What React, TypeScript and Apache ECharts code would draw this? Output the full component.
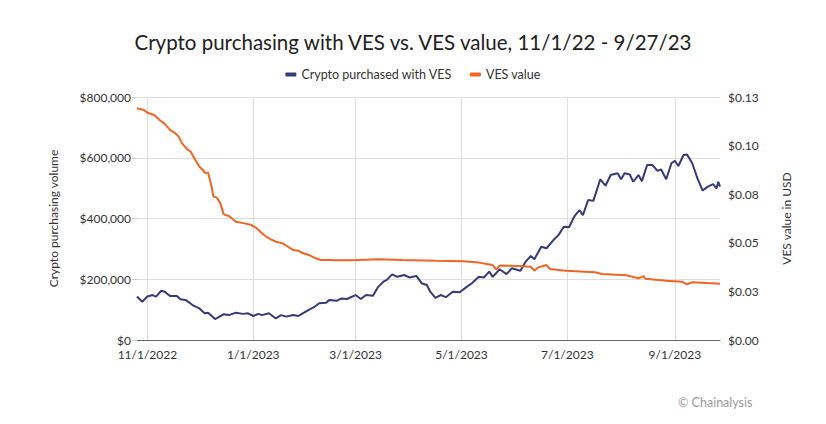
import React, { useEffect, useRef } from "react";
import * as echarts from "echarts";

const titleText = "Crypto purchasing with VES vs. VES value, 11/1/22 - 9/27/23";
const seriesNames = ["Crypto purchased with VES", "VES value"];
const leftAxisName = "Crypto purchasing volume";
const rightAxisName = "VES value in USD";
const xTickDates = ["2022-11-01", "2023-01-01", "2023-03-01", "2023-05-01", "2023-07-01", "2023-09-01"];
const xRange = ["2022-10-26", "2023-09-27"];

const cryptoDates = [
  "2022-10-26", "2022-10-29", "2022-11-01", "2022-11-04", "2022-11-06", "2022-11-09", "2022-11-11", "2022-11-14",
  "2022-11-18", "2022-11-20", "2022-11-23", "2022-11-27", "2022-12-01", "2022-12-04", "2022-12-06", "2022-12-10",
  "2022-12-12", "2022-12-15", "2022-12-18", "2022-12-22", "2022-12-26", "2022-12-29", "2023-01-01", "2023-01-04",
  "2023-01-06", "2023-01-10", "2023-01-14", "2023-01-17", "2023-01-20", "2023-01-24", "2023-01-27", "2023-01-29",
  "2023-02-02", "2023-02-05", "2023-02-08", "2023-02-12", "2023-02-14", "2023-02-18", "2023-02-21", "2023-02-24",
  "2023-03-01", "2023-03-04", "2023-03-07", "2023-03-11", "2023-03-14", "2023-03-17", "2023-03-19", "2023-03-22",
  "2023-03-25", "2023-03-29", "2023-04-01", "2023-04-05", "2023-04-08", "2023-04-11", "2023-04-13", "2023-04-16",
  "2023-04-19", "2023-04-22", "2023-04-26", "2023-04-30", "2023-05-04", "2023-05-07", "2023-05-11", "2023-05-14",
  "2023-05-17", "2023-05-19", "2023-05-23", "2023-05-27", "2023-05-30", "2023-06-04", "2023-06-07", "2023-06-10",
  "2023-06-12", "2023-06-16", "2023-06-19", "2023-06-23", "2023-06-26", "2023-06-29", "2023-07-02", "2023-07-05",
  "2023-07-08", "2023-07-10", "2023-07-13", "2023-07-16", "2023-07-20", "2023-07-23", "2023-07-26", "2023-07-30",
  "2023-08-01", "2023-08-03", "2023-08-06", "2023-08-08", "2023-08-11", "2023-08-13", "2023-08-16", "2023-08-19",
  "2023-08-22", "2023-08-24", "2023-08-27", "2023-08-30", "2023-09-01", "2023-09-03", "2023-09-06", "2023-09-08",
  "2023-09-11", "2023-09-14", "2023-09-17", "2023-09-20", "2023-09-23", "2023-09-25", "2023-09-26", "2023-09-27",
];
const cryptoValues = [
  143000, 126000, 143000, 148000, 143000, 162000, 159000, 145000,
  145000, 134000, 132000, 115000, 104000, 88000, 90000, 69000,
  75000, 85000, 82000, 90000, 86000, 88000, 79000, 86000,
  82000, 88000, 71000, 82000, 77000, 82000, 79000, 86000,
  99000, 108000, 121000, 123000, 132000, 129000, 137000, 135000,
  148000, 135000, 148000, 146000, 175000, 192000, 198000, 216000,
  208000, 214000, 206000, 211000, 187000, 181000, 159000, 139000,
  148000, 141000, 159000, 157000, 175000, 187000, 208000, 206000,
  225000, 208000, 233000, 217000, 236000, 228000, 258000, 277000,
  266000, 307000, 302000, 329000, 346000, 373000, 371000, 406000,
  428000, 411000, 461000, 458000, 529000, 508000, 543000, 549000,
  529000, 549000, 545000, 521000, 543000, 523000, 576000, 576000,
  557000, 562000, 529000, 582000, 590000, 573000, 609000, 611000,
  582000, 532000, 492000, 505000, 513000, 499000, 521000, 505000,
];

const vesDates = [
  "2022-10-26", "2022-10-30", "2022-11-01", "2022-11-05", "2022-11-08", "2022-11-11", "2022-11-14", "2022-11-17",
  "2022-11-19", "2022-11-21", "2022-11-24", "2022-11-26", "2022-11-28", "2022-12-01", "2022-12-03", "2022-12-04",
  "2022-12-06", "2022-12-08", "2022-12-09", "2022-12-11", "2022-12-13", "2022-12-15", "2022-12-18", "2022-12-22",
  "2022-12-27", "2022-12-31", "2023-01-03", "2023-01-06", "2023-01-08", "2023-01-11", "2023-01-14", "2023-01-18",
  "2023-01-21", "2023-01-24", "2023-01-27", "2023-01-29", "2023-02-02", "2023-02-06", "2023-02-09", "2023-02-14",
  "2023-02-18", "2023-02-27", "2023-03-14", "2023-03-28", "2023-04-16", "2023-05-02", "2023-05-11", "2023-05-19",
  "2023-05-21", "2023-05-23", "2023-06-03", "2023-06-10", "2023-06-12", "2023-06-14", "2023-06-19", "2023-06-21",
  "2023-06-30", "2023-07-17", "2023-07-21", "2023-08-04", "2023-08-11", "2023-08-14", "2023-08-15", "2023-08-27",
  "2023-09-05", "2023-09-08", "2023-09-11", "2023-09-19", "2023-09-27",
];
const vesValues = [
  0.124, 0.123, 0.1216, 0.1204, 0.1177, 0.1156, 0.1124, 0.1107,
  0.1088, 0.1052, 0.102, 0.1007, 0.0972, 0.0927, 0.0909, 0.0895,
  0.0895, 0.082, 0.0767, 0.0763, 0.0731, 0.0672, 0.0663, 0.0633,
  0.0624, 0.0615, 0.0598, 0.0571, 0.0556, 0.0539, 0.0526, 0.0517,
  0.0499, 0.0481, 0.0478, 0.0467, 0.0455, 0.0437, 0.0428, 0.0428,
  0.0426, 0.0426, 0.0432, 0.0428, 0.0424, 0.0421, 0.0414, 0.0401,
  0.0378, 0.0398, 0.0396, 0.0392, 0.0371, 0.0387, 0.0401, 0.038,
  0.0371, 0.0362, 0.0353, 0.0346, 0.033, 0.0342, 0.0328, 0.0317,
  0.0312, 0.0298, 0.0309, 0.0305, 0.0301,
];

const FONT = "Lato, 'Noto Sans', sans-serif";

function toTs(s: string) {
  const [y, m, d] = s.split("-").map(Number);
  return Date.UTC(y, m - 1, d);
}

export default function App() {
  const ref = useRef<HTMLDivElement>(null);
  useEffect(() => {
    document.body.style.margin = "0";
    const chart = echarts.init(ref.current!, null, { renderer: "svg" });
    const tickTs = xTickDates.map(toTs);
    chart.setOption({
      animation: false,
      backgroundColor: "#ffffff",
      textStyle: { fontFamily: FONT },
      title: {
        text: titleText,
        left: "center",
        top: 26,
        textStyle: { fontFamily: FONT, fontSize: 20.5, fontWeight: "normal", color: "#222" },
      },
      legend: {
        top: 63,
        left: "center",
        itemWidth: 11,
        itemHeight: 4,
        itemGap: 18,
        icon: "roundRect",
        textStyle: { fontFamily: FONT, fontSize: 12.5, color: "#333" },
        data: seriesNames,
      },
      grid: { left: 137, right: 106, top: 97, bottom: 84, containLabel: false },
      xAxis: {
        type: "value",
        min: toTs(xRange[0]),
        max: toTs(xRange[1]),
        axisLine: { show: true, lineStyle: { color: "#666", width: 1 } },
        axisTick: { show: false, customValues: tickTs },
        splitLine: { show: false },
        axisLabel: {
          customValues: tickTs,
          color: "#333",
          fontSize: 12,
          fontFamily: FONT,
          margin: 8,
          formatter: (v: number) => {
            const d = new Date(v);
            return `${d.getUTCMonth() + 1}/${d.getUTCDate()}/${d.getUTCFullYear()}`;
          },
        },
      },
      yAxis: [
        {
          type: "value",
          min: 0,
          max: 800000,
          interval: 200000,
          name: leftAxisName,
          nameLocation: "middle",
          nameGap: 78,
          nameTextStyle: { fontFamily: FONT, fontSize: 12, color: "#333" },
          axisLine: { show: false },
          axisTick: { show: true, length: 5, lineStyle: { color: "#ccc" } },
          splitLine: { show: true, lineStyle: { color: "#dedede" } },
          axisLabel: {
            color: "#333",
            fontSize: 12,
            fontFamily: FONT,
            margin: 6,
            formatter: (v: number) => "$" + v.toLocaleString("en-US"),
          },
        },
        {
          type: "value",
          min: 0,
          max: 0.13,
          interval: 0.026,
          name: rightAxisName,
          nameLocation: "middle",
          nameGap: 60,
          nameRotate: 90,
          nameTextStyle: { fontFamily: FONT, fontSize: 12, color: "#333" },
          axisLine: { show: false },
          axisTick: { show: false },
          splitLine: { show: false },
          axisLabel: {
            color: "#333",
            fontSize: 12,
            fontFamily: FONT,
            margin: 8,
            formatter: (v: number) => "$" + v.toFixed(2),
          },
        },
      ],
      series: [
        {
          name: seriesNames[0],
          type: "line",
          yAxisIndex: 0,
          showSymbol: false,
          symbol: "none",
          color: "#353a78",
          lineStyle: { width: 2, color: "#353a78" },
          data: cryptoDates.map((d, i) => [toTs(d), cryptoValues[i]]),
          markLine: {
            silent: true,
            symbol: "none",
            label: { show: false },
            lineStyle: { color: "#dedede", width: 1, type: "solid" },
            data: tickTs.map((t) => ({ xAxis: t })),
            z: 0,
          },
        },
        {
          name: seriesNames[1],
          type: "line",
          yAxisIndex: 1,
          showSymbol: false,
          symbol: "none",
          color: "#f06522",
          lineStyle: { width: 2, color: "#f06522" },
          data: vesDates.map((d, i) => [toTs(d), vesValues[i]]),
        },
      ],
      graphic: [
        {
          type: "text",
          left: 678,
          top: 396,
          style: { text: "© Chainalysis", fill: "#9a9a9a", fontSize: 12.5, fontFamily: FONT },
        },
      ],
    });
    return () => chart.dispose();
  }, []);
  return <div ref={ref} style={{ width: 826, height: 424 }} />;
}
